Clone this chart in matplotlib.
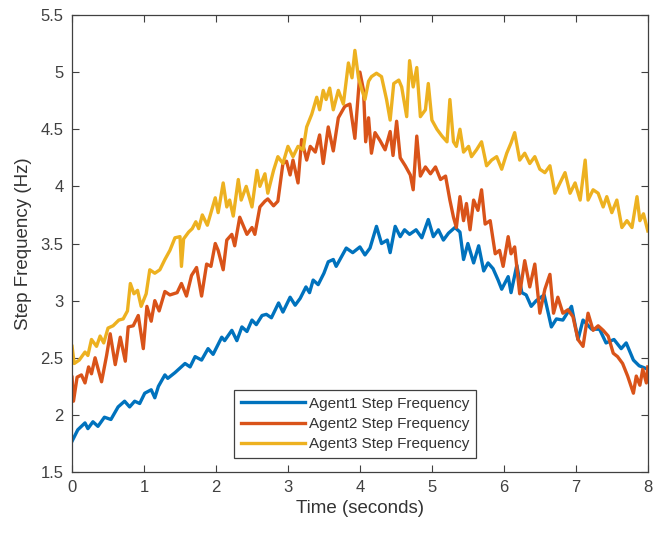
import matplotlib.pyplot as plt
import numpy as np

plt.rcParams['font.family'] = ['Liberation Sans', 'DejaVu Sans']

# (time s, step frequency Hz)
agent1 = [
    (0, 1.77), (0.08, 1.87), (0.18, 1.93), (0.22, 1.88), (0.29, 1.94), (0.36, 1.9),
    (0.45, 1.98), (0.54, 1.96), (0.64, 2.07), (0.73, 2.12), (0.8, 2.07), (0.87, 2.12),
    (0.94, 2.1), (1.01, 2.19), (1.1, 2.22), (1.15, 2.15), (1.2, 2.25), (1.29, 2.35),
    (1.33, 2.32), (1.43, 2.37), (1.57, 2.45), (1.64, 2.42), (1.71, 2.51), (1.8, 2.48),
    (1.89, 2.58), (1.96, 2.53), (2.08, 2.68), (2.12, 2.65), (2.22, 2.74), (2.29, 2.65),
    (2.36, 2.77), (2.43, 2.73), (2.5, 2.83), (2.56, 2.79), (2.64, 2.87), (2.7, 2.88),
    (2.77, 2.85), (2.87, 2.98), (2.93, 2.9), (3.03, 3.03), (3.1, 2.96), (3.17, 3.02),
    (3.25, 3.12), (3.3, 3.07), (3.35, 3.18), (3.42, 3.14), (3.5, 3.24), (3.56, 3.34),
    (3.63, 3.36), (3.67, 3.3), (3.81, 3.46), (3.9, 3.42), (4.0, 3.47), (4.07, 3.4),
    (4.14, 3.46), (4.23, 3.65), (4.3, 3.5), (4.38, 3.53), (4.42, 3.42), (4.49, 3.65),
    (4.56, 3.56), (4.62, 3.62), (4.69, 3.58), (4.78, 3.62), (4.86, 3.55), (4.95, 3.71),
    (5.02, 3.56), (5.09, 3.62), (5.16, 3.53), (5.23, 3.59), (5.32, 3.64), (5.39, 3.6),
    (5.44, 3.36), (5.5, 3.5), (5.58, 3.33), (5.65, 3.48), (5.72, 3.26), (5.78, 3.33),
    (5.85, 3.28), (5.92, 3.18), (5.97, 3.1), (6.06, 3.21), (6.1, 3.07), (6.18, 3.31),
    (6.25, 3.07), (6.31, 3.05), (6.38, 2.95), (6.45, 3.0), (6.56, 3.05), (6.66, 2.77),
    (6.73, 2.84), (6.82, 2.83), (6.94, 2.95), (7.03, 2.66), (7.1, 2.83), (7.22, 2.75),
    (7.33, 2.75), (7.42, 2.63), (7.53, 2.66), (7.63, 2.58), (7.7, 2.63), (7.8, 2.48),
    (7.88, 2.43), (8.0, 2.4),
]

agent2 = [
    (0, 2.33), (0.02, 2.12), (0.07, 2.33), (0.13, 2.35), (0.18, 2.28), (0.23, 2.42),
    (0.27, 2.36), (0.32, 2.5), (0.41, 2.29), (0.48, 2.52), (0.53, 2.71), (0.6, 2.44),
    (0.67, 2.68), (0.74, 2.47), (0.78, 2.77), (0.85, 2.78), (0.92, 2.87), (0.99, 2.58),
    (1.04, 2.95), (1.1, 2.82), (1.15, 3.0), (1.21, 2.91), (1.29, 3.08), (1.36, 3.05),
    (1.46, 3.07), (1.52, 3.15), (1.59, 3.04), (1.66, 3.22), (1.73, 3.29), (1.8, 3.04),
    (1.87, 3.32), (1.93, 3.3), (1.99, 3.5), (2.03, 3.44), (2.1, 3.27), (2.15, 3.53),
    (2.22, 3.58), (2.26, 3.48), (2.33, 3.73), (2.43, 3.58), (2.5, 3.64), (2.54, 3.58),
    (2.61, 3.82), (2.68, 3.87), (2.72, 3.89), (2.8, 3.83), (2.86, 3.87), (2.93, 4.2),
    (2.98, 4.22), (3.03, 4.1), (3.07, 4.23), (3.14, 4.03), (3.19, 4.41), (3.26, 4.23),
    (3.31, 4.35), (3.38, 4.3), (3.44, 4.45), (3.49, 4.2), (3.56, 4.52), (3.63, 4.31),
    (3.7, 4.6), (3.79, 4.7), (3.86, 4.72), (3.93, 4.42), (4.0, 5.0), (4.05, 4.84),
    (4.08, 4.39), (4.12, 4.6), (4.16, 4.29), (4.21, 4.47), (4.28, 4.4), (4.35, 4.32),
    (4.42, 4.48), (4.46, 4.27), (4.51, 4.57), (4.56, 4.25), (4.63, 4.18), (4.7, 4.1),
    (4.74, 3.97), (4.79, 4.44), (4.84, 4.09), (4.91, 4.17), (4.98, 4.11), (5.05, 4.17),
    (5.12, 4.06), (5.19, 4.09), (5.25, 3.88), (5.3, 3.73), (5.34, 3.64), (5.39, 3.91),
    (5.44, 3.7), (5.48, 3.85), (5.53, 3.62), (5.58, 3.88), (5.64, 3.79), (5.69, 3.97),
    (5.74, 3.67), (5.81, 3.7), (5.88, 3.41), (5.94, 3.44), (5.99, 3.3), (6.06, 3.56),
    (6.1, 3.41), (6.15, 3.47), (6.22, 3.06), (6.29, 3.35), (6.36, 3.12), (6.43, 3.32),
    (6.5, 2.89), (6.57, 3.1), (6.64, 3.23), (6.69, 2.89), (6.75, 3.03), (6.82, 2.89),
    (6.89, 2.92), (6.96, 2.86), (7.03, 2.66), (7.1, 2.6), (7.17, 2.89), (7.24, 2.74),
    (7.31, 2.78), (7.38, 2.74), (7.45, 2.69), (7.52, 2.54), (7.58, 2.51), (7.65, 2.45),
    (7.72, 2.34), (7.8, 2.19), (7.84, 2.34), (7.89, 2.26), (7.93, 2.4), (7.98, 2.28),
    (8.0, 2.42),
]

agent3 = [
    (0, 2.6), (0.03, 2.45), (0.1, 2.48), (0.18, 2.55), (0.22, 2.52), (0.27, 2.66),
    (0.34, 2.6), (0.39, 2.69), (0.44, 2.63), (0.5, 2.76), (0.57, 2.78), (0.65, 2.83),
    (0.71, 2.84), (0.77, 2.91), (0.81, 3.15), (0.86, 3.06), (0.91, 3.09), (0.96, 2.95),
    (1.03, 3.06), (1.08, 3.27), (1.15, 3.24), (1.22, 3.27), (1.29, 3.36), (1.36, 3.44),
    (1.43, 3.55), (1.5, 3.56), (1.52, 3.3), (1.55, 3.54), (1.62, 3.6), (1.67, 3.63),
    (1.72, 3.69), (1.76, 3.63), (1.81, 3.75), (1.88, 3.66), (1.99, 3.9), (2.03, 3.77),
    (2.1, 4.03), (2.15, 3.82), (2.19, 3.88), (2.24, 3.74), (2.31, 4.06), (2.35, 3.88),
    (2.42, 4.0), (2.5, 3.82), (2.57, 4.14), (2.61, 4.0), (2.68, 4.11), (2.72, 3.94),
    (2.8, 4.14), (2.86, 4.26), (2.93, 4.2), (3.0, 4.35), (3.07, 4.26), (3.14, 4.35),
    (3.21, 4.32), (3.26, 4.52), (3.33, 4.63), (3.4, 4.78), (3.44, 4.67), (3.49, 4.84),
    (3.53, 4.76), (3.58, 4.86), (3.63, 4.67), (3.7, 4.84), (3.77, 4.72), (3.84, 5.08),
    (3.89, 4.95), (3.93, 5.19), (3.98, 4.95), (4.03, 4.84), (4.07, 4.76), (4.12, 4.92),
    (4.16, 4.96), (4.23, 4.99), (4.3, 4.96), (4.37, 4.76), (4.42, 4.58), (4.47, 4.9),
    (4.54, 4.93), (4.58, 4.87), (4.65, 4.61), (4.69, 5.1), (4.74, 4.87), (4.79, 5.04),
    (4.84, 4.61), (4.91, 4.67), (4.95, 4.9), (5.0, 4.58), (5.07, 4.5), (5.14, 4.44),
    (5.21, 4.39), (5.25, 4.76), (5.3, 4.39), (5.34, 4.35), (5.39, 4.5), (5.44, 4.3),
    (5.51, 4.35), (5.55, 4.26), (5.62, 4.32), (5.69, 4.39), (5.76, 4.18), (5.83, 4.23),
    (5.9, 4.26), (5.97, 4.15), (6.04, 4.29), (6.1, 4.38), (6.15, 4.47), (6.22, 4.23),
    (6.29, 4.29), (6.36, 4.2), (6.43, 4.26), (6.5, 4.15), (6.57, 4.12), (6.64, 4.18),
    (6.71, 3.94), (6.78, 4.03), (6.85, 4.12), (6.92, 3.94), (6.99, 4.03), (7.06, 3.88),
    (7.13, 4.23), (7.17, 3.88), (7.24, 3.97), (7.31, 3.94), (7.38, 3.82), (7.43, 3.91),
    (7.5, 3.77), (7.57, 3.88), (7.64, 3.64), (7.71, 3.7), (7.78, 3.64), (7.85, 3.91),
    (7.89, 3.7), (7.94, 3.76), (8.0, 3.61),
]

labels = ['Agent1 Step Frequency', 'Agent2 Step Frequency', 'Agent3 Step Frequency']
colors = ['#0072BD', '#D95319', '#EDB120']
xticks = [0, 1, 2, 3, 4, 5, 6, 7, 8]
yticks = [1.5, 2, 2.5, 3, 3.5, 4, 4.5, 5, 5.5]

fig = plt.figure(figsize=(6.55, 5.34), dpi=100)
ax = fig.add_axes([0.11, 0.116, 0.879, 0.856])

for data, lab, col in zip([agent1, agent2, agent3], labels, colors):
    arr = np.array(data)
    ax.plot(arr[:, 0], arr[:, 1], color=col, lw=2.4, label=lab)

ax.set_xlim(0, 8)
ax.set_ylim(1.5, 5.5)
ax.set_xticks(xticks)
ax.set_yticks(yticks)
ax.set_yticklabels([f'{v:g}' for v in yticks])
ax.tick_params(direction='in', length=5, width=0.8, top=True, right=True,
               labelsize=12, colors='#404040', pad=6)
for s in ax.spines.values():
    s.set_color('#404040')
    s.set_linewidth(0.9)

ax.set_xlabel('Time (seconds)', fontsize=13.5, color='#333333', labelpad=3)
ax.set_ylabel('Step Frequency (Hz)', fontsize=13.5, color='#333333', labelpad=6)

leg = ax.legend(loc='lower center', bbox_to_anchor=(0.491, 0.03), fontsize=11,
                handlelength=4.2, fancybox=False, framealpha=1, edgecolor='#404040',
                borderpad=0.45, labelspacing=0.42, handletextpad=0.25, borderaxespad=0)
leg.get_frame().set_linewidth(0.9)
for txt in leg.get_texts():
    txt.set_color('#333333')

fig.savefig('out.png', dpi=100)
